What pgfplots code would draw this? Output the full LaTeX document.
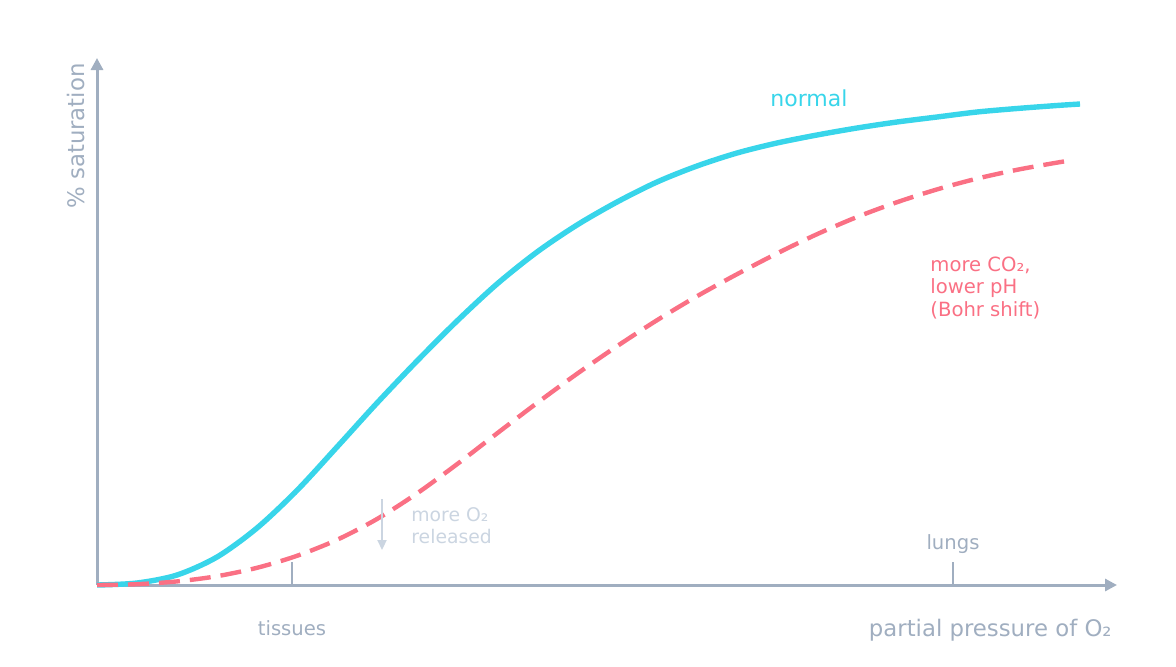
\documentclass[border=0pt]{standalone}
\usepackage{pgfplots}
\pgfplotsset{compat=1.18}
\usepackage{fontspec}
\setmainfont{DejaVu Sans}
\usetikzlibrary{arrows.meta}
\definecolor{ccyan}{HTML}{38D5EA}
\definecolor{cpink}{HTML}{FA7084}
\definecolor{cgray}{HTML}{A0AEC0}
\definecolor{clight}{HTML}{CBD5E1}

\begin{document}
\begin{tikzpicture}
\begin{axis}[
    x=0.5pt, y=0.5pt,
    xmin=0, xmax=1020,
    ymin=0, ymax=527,
    axis lines=left,
    axis line style={cgray, line width=1.5pt, -{Triangle[length=6pt,width=6pt]}},
    xtick=\empty, ytick=\empty,
    clip=false,
]
\path (axis cs:-97,-81) rectangle (axis cs:1079,585);

% normal curve
\addplot[ccyan, line width=2.7pt, smooth] coordinates {
  (0,0) (40,2) (80,10) (120,28) (160,57) (200,94.6) (240,138) (280,182)
  (320,224) (360,264) (400,301) (440,333) (480,360) (520,383) (560,403)
  (600,419) (640,432) (680,442) (720,450) (760,457) (800,463) (840,468)
  (880,473) (920,476.5) (960,479.5) (983,481)
};

% Bohr shift curve
\addplot[cpink, line width=2.2pt, smooth, dash pattern=on 10.5pt off 5pt] coordinates {
  (0,0) (40,0.8) (80,3.6) (120,8.8) (160,17.2) (200,29.2) (240,45.2)
  (280,66) (320,91.6) (360,120.8) (400,151.6) (440,182) (480,211.2)
  (520,238.8) (560,264.8) (600,288.8) (640,310.8) (680,331.6) (720,350.8)
  (760,368) (800,382.8) (840,395.6) (880,406.4) (920,415.2) (960,422.4)
  (975,424.7)
};

% markers on the x axis
\draw[cgray, line width=0.8pt] (axis cs:195,0) -- (axis cs:195,23);
\draw[cgray, line width=0.8pt] (axis cs:856,0) -- (axis cs:856,23);
\draw[clight, line width=1.1pt, -{Triangle[length=5pt,width=4.5pt]}] (axis cs:285,86) -- (axis cs:285,35);

\node[text=cgray, font=\fontsize{9.8}{11}\selectfont] at (axis cs:195,-43) {tissues};
\node[text=cgray, font=\fontsize{9.8}{11}\selectfont] at (axis cs:856,41) {lungs};
\node[text=cgray, font=\fontsize{11.4}{13}\selectfont, anchor=east, inner sep=0pt] at (axis cs:1015,-45) {partial pressure of O₂};
\node[text=cgray, font=\fontsize{11.4}{13}\selectfont, rotate=90] at (axis cs:-21,449) {\% saturation};
\node[text=ccyan, font=\fontsize{11}{13}\selectfont, anchor=west, inner sep=0pt] at (axis cs:673,487) {normal};
\node[text=cpink, font=\fontsize{9.8}{11.2}\selectfont, anchor=west, align=left, inner sep=0pt] at (axis cs:833,297) {more CO₂,\\lower pH\\(Bohr shift)};
\node[text=clight, font=\fontsize{9.4}{11}\selectfont, anchor=west, align=left, inner sep=0pt] at (axis cs:314,59) {more O₂\\released};
\end{axis}
\end{tikzpicture}
\end{document}
